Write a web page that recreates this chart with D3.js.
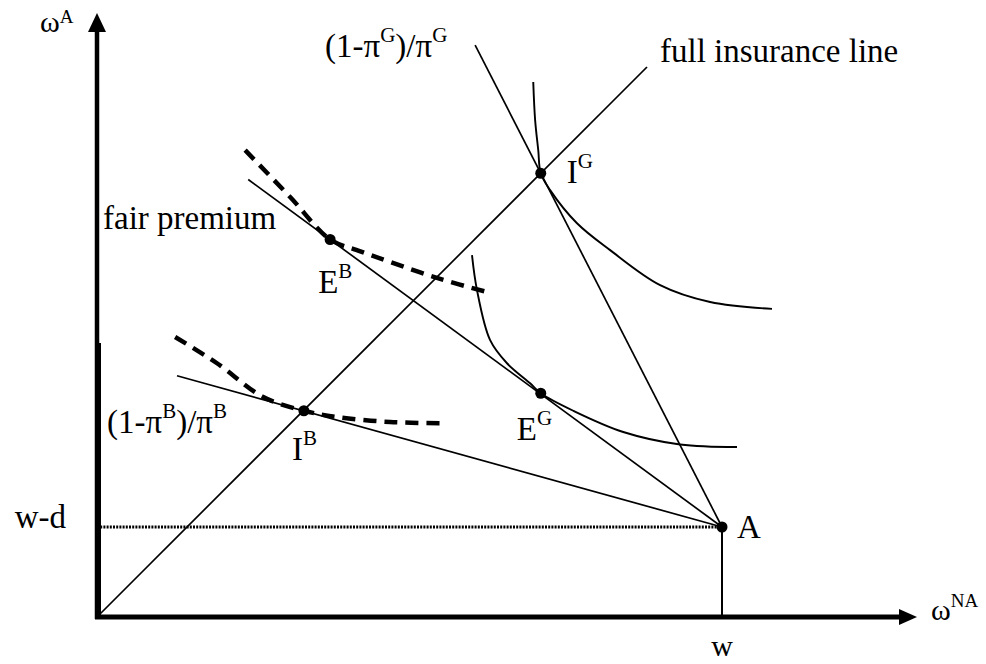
<!DOCTYPE html>
<html>
<head>
<meta charset="utf-8">
<script src="https://cdn.jsdelivr.net/npm/d3@7"></script>
<style>
    body { margin: 0; background: #fff; }
    svg text { font-family: "Liberation Serif", "Times New Roman", serif; fill: #000; }
</style>
</head>
<body>
<div id="chart"></div>
<script>
// wealth levels, in model units (w = 100)
const wealth = 100;           // w, no accident
const wealthDamage = 14.4;    // w-d, accident

// full insurance line (45 degrees)
const fullInsurance = [[0, 0], [88, 88]];

// budget lines through the endowment A, from their far end to A
const budgetGood = [[60.5, 91.5], [100, 14.4]];   // slope (1-πG)/πG
const budgetFair = [[24.2, 70.0], [100, 14.4]];   // fair premium
const budgetBad  = [[12.8, 38.6], [100, 14.4]];   // slope (1-πB)/πB

// indifference curves
const curveIG = [[69.8, 85.6], [70.1, 79.5], [70.6, 74.7], [71.0, 71.0], [72.5, 68.3],
    [76.8, 63.0], [82.1, 58.7], [90.1, 53.1], [98.1, 50.4], [108.0, 49.3]];
const curveEG = [[60.0, 57.9], [60.8, 52.3], [62.9, 44.3], [65.6, 40.6], [69.3, 37.4],
    [71.0, 35.8], [76.2, 33.0], [84.2, 29.6], [93.3, 27.6], [102.4, 27.2]];
const curveEB = [[23.7, 74.7], [30.9, 67.2], [37.3, 60.4], [41.6, 58.7], [46.9, 56.8],
    [54.9, 54.1], [62.4, 52.0]];
const curveIB = [[12.5, 44.8], [19.2, 40.6], [26.6, 35.2], [33.1, 33.0], [38.4, 32.0],
    [46.9, 31.2], [55.2, 31.0]];

// labelled points
const pointNames = ["I", "E", "E", "I", "A"];
const pointSups = ["G", "B", "G", "B", ""];
const pointX = [71.0, 37.3, 71.0, 33.1, 100];
const pointY = [71.0, 60.4, 35.8, 33.0, 14.4];

function createVis(selector) {
    const dims = { width: 986, height: 664 };
    const origin = { x: 97, y: 617 };
    const unit = 6.25;   // px per model unit, same on both axes

    const svg = d3.select(selector)
        .append("svg")
        .attr("width", dims.width)
        .attr("height", dims.height);

    const xScale = d3.scaleLinear()
        .domain([0, wealth])
        .range([origin.x, origin.x + wealth * unit]);
    const yScale = d3.scaleLinear()
        .domain([0, wealth])
        .range([origin.y, origin.y - wealth * unit]);

    const line = d3.line()
        .x(d => xScale(d[0]))
        .y(d => yScale(d[1]));
    const smooth = d3.line()
        .x(d => xScale(d[0]))
        .y(d => yScale(d[1]))
        .curve(d3.curveCatmullRom.alpha(0.5));

    // axes with arrow heads
    const axes = svg.append("g").attr("class", "axes");
    const yTop = 13, xEnd = 917, head = 19;
    axes.append("line")
        .attr("x1", origin.x).attr("x2", origin.x)
        .attr("y1", origin.y + 2).attr("y2", yTop + head)
        .style("stroke", "#000").style("stroke-width", 4.5);
    axes.append("line")
        .attr("x1", origin.x + 1).attr("x2", origin.x + 1)
        .attr("y1", origin.y + 2).attr("y2", 343)
        .style("stroke", "#000").style("stroke-width", 6);
    axes.append("path")
        .attr("d", `M${origin.x},${yTop} L${origin.x - 9},${yTop + head} L${origin.x + 9},${yTop + head} Z`)
        .style("fill", "#000");
    axes.append("line")
        .attr("x1", origin.x - 2).attr("x2", xEnd - 17)
        .attr("y1", origin.y).attr("y2", origin.y)
        .style("stroke", "#000").style("stroke-width", 5);
    axes.append("path")
        .attr("d", `M${xEnd},${origin.y} L${xEnd - 18},${origin.y - 8} L${xEnd - 18},${origin.y + 8} Z`)
        .style("fill", "#000");

    // w-d dotted guide and vertical at w
    const marks = svg.append("g").attr("class", "marks");
    marks.append("path")
        .attr("d", line([[0, wealthDamage], [wealth, wealthDamage]]))
        .style("stroke", "#000").style("stroke-width", 3)
        .style("stroke-dasharray", "2,1.2").style("fill", "none");
    marks.append("path")
        .attr("d", line([[wealth, 0], [wealth, wealthDamage]]))
        .style("stroke", "#000").style("stroke-width", 2).style("fill", "none");

    // straight lines
    [fullInsurance, budgetGood, budgetFair, budgetBad].forEach(d => {
        marks.append("path")
            .attr("d", line(d))
            .style("stroke", "#000").style("stroke-width", 1.7).style("fill", "none");
    });

    // good type indifference curves (solid)
    [curveIG, curveEG].forEach(d => {
        marks.append("path")
            .attr("d", smooth(d))
            .style("stroke", "#000").style("stroke-width", 1.9).style("fill", "none");
    });

    // bad type indifference curves (thick dashed)
    [curveEB, curveIB].forEach(d => {
        marks.append("path")
            .attr("d", smooth(d))
            .style("stroke", "#000").style("stroke-width", 4.5)
            .style("stroke-dasharray", "13,8").style("fill", "none");
    });

    // points
    marks.selectAll("circle")
        .data(pointX.map((x, i) => ({ x: x, y: pointY[i] })))
        .join("circle")
        .attr("cx", d => xScale(d.x))
        .attr("cy", d => yScale(d.y))
        .attr("r", 5.5)
        .style("fill", "#000");

    // point labels: offset from the point in px
    const offsets = [[26, 10], [-12, 53], [-24, 47], [-12, 49], [15, 11]];
    const text = svg.append("g").attr("class", "text");
    pointNames.forEach((n, i) => {
        const t = text.append("text")
            .attr("x", xScale(pointX[i]) + offsets[i][0])
            .attr("y", yScale(pointY[i]) + offsets[i][1])
            .style("font-size", "33px")
            .text(n);
        if (pointSups[i]) {
            t.append("tspan")
                .attr("dy", -15)
                .style("font-size", "21px")
                .text(pointSups[i]);
        }
    });

    // formula labels with superscripts
    function formula(x, y, sup) {
        const t = text.append("text")
            .attr("x", x).attr("y", y)
            .style("font-size", "33px");
        t.append("tspan").text("(1-π");
        t.append("tspan").attr("dy", -15).style("font-size", "21px").text(sup);
        t.append("tspan").attr("dy", 15).text(")/π");
        t.append("tspan").attr("dy", -15).style("font-size", "21px").text(sup);
    }
    formula(325, 57, "G");
    formula(107, 433, "B");

    text.append("text")
        .attr("x", 660).attr("y", 62)
        .style("font-size", "33px")
        .text("full insurance line");
    text.append("text")
        .attr("x", 103).attr("y", 229)
        .style("font-size", "33px")
        .text("fair premium");

    // axis labels
    const yl = text.append("text")
        .attr("x", 40).attr("y", 32)
        .style("font-size", "30px")
        .text("ω");
    yl.append("tspan").attr("dy", -9).style("font-size", "19px").text("A");
    const xl = text.append("text")
        .attr("x", 931).attr("y", 620)
        .style("font-size", "30px")
        .text("ω");
    xl.append("tspan").attr("dy", -13).style("font-size", "19px").text("NA");

    text.append("text")
        .attr("x", origin.x - 31).attr("y", yScale(wealthDamage) + 1)
        .style("font-size", "33px")
        .style("text-anchor", "end")
        .text("w-d");
    text.append("text")
        .attr("x", xScale(wealth)).attr("y", 656)
        .style("font-size", "30px")
        .style("text-anchor", "middle")
        .text("w");

    return svg;
}

const vis = createVis("#chart");
</script>
</body>
</html>
